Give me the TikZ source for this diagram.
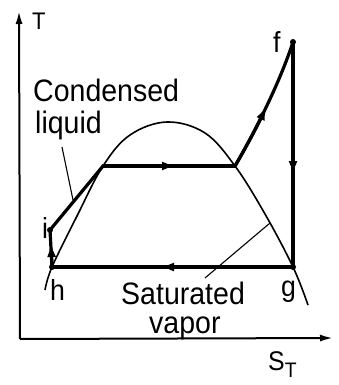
\documentclass[tikz,border=0pt]{standalone}
\usepackage{fontspec}
\setmainfont{Liberation Sans}[FakeStretch=0.92]
\usetikzlibrary{arrows.meta}
\begin{document}
\begin{tikzpicture}[x=1pt,y=-1pt,
  axis/.style={line width=2pt},
  dome/.style={line width=1.6pt},
  proc/.style={line width=3.2pt,line cap=round},
  tipped/.style={line width=3.2pt,-{Latex[length=14pt,width=9pt]}},
  lead/.style={line width=1.1pt},
  lbl/.style={inner sep=0pt, anchor=base west, font=\fontsize{31}{31}\selectfont},
  ptlbl/.style={inner sep=0pt, anchor=base west, font=\fontsize{29}{29}\selectfont},
  pt/.style={circle,fill,inner sep=0pt,minimum size=6pt}
]
\useasboundingbox (0,0) rectangle (338,385);
% axes
\coordinate (O) at (20,339);
\coordinate (ytop) at (19,11);
\coordinate (xend) at (333,338);
\draw[axis,-{Latex[length=13pt,width=7pt]}] (O) -- (ytop);
\draw[axis,-{Latex[length=13pt,width=7pt]}] (O) -- (xend);
\node[inner sep=0pt, anchor=base west, font=\fontsize{24}{24}\selectfont] (T) at (32,30) {T};
\node[inner sep=0pt, anchor=base west, font=\fontsize{27}{27}\selectfont] (sT) at (268,370) {S\raisebox{-7pt}{\fontsize{21}{21}\selectfont T}};
% dome
\draw[dome] plot[smooth,tension=0.6] coordinates {(45,290) (52,267) (77,216) (103,166) (130,135) (167,122) (205,133) (235,166) (265,214) (293,267) (308,305)};
% state points
\node[pt] (h) at (52,267) {};
\node[pt] (i) at (50,230) {};
\node[pt] (f) at (293,42) {};
\node[pt] (g) at (293,267) {};
\coordinate (L) at (103,166);
\coordinate (R) at (235,166);
% arrow tip positions
\coordinate (mhi) at (51,243);
\coordinate (mLR) at (176,166);
\coordinate (mRf) at (266.6,106.25);
\coordinate (mfg) at (293,175);
\coordinate (mgh) at (160,267);
% process
\draw[proc] (h.center) -- (i.center);
\draw[tipped] (h.center) -- (mhi);
\draw[proc] (i.center) -- (L);
\draw[proc] (L) -- (R);
\draw[tipped] (L) -- (mLR);
\draw[proc] (R) .. controls (245,149) and (256.25,128) .. (mRf) .. controls (277,84.5) and (286.5,62) .. (f.center);
\draw[tipped] (R) .. controls (245,149) and (256.25,128) .. (mRf);
\draw[proc] (f.center) -- (g.center);
\draw[tipped] (f.center) -- (mfg);
\draw[proc] (g.center) -- (h.center);
\draw[tipped] (g.center) -- (mgh);
% labels
\node[ptlbl] (lh) at (50,300) {h};
\node[ptlbl] (lg) at (281,296) {g};
\node[ptlbl] (li) at (42,238) {i};
\node[ptlbl] (lf) at (273,53) {f};
\node[lbl] (cond) at (33,102) {Condensed};
\node[lbl] (liq) at (35,133) {liquid};
\node[lbl] (sat) at (121,304) {Saturated};
\node[lbl] (vap) at (149,333) {vapor};
% leaders
\coordinate (a1) at (62,147);
\coordinate (a2) at (73,200);
\coordinate (b1) at (205,278);
\coordinate (b2) at (270,223);
\draw[lead] (a1) -- (a2);
\draw[lead] (b1) -- (b2);
\end{tikzpicture}
\end{document}
